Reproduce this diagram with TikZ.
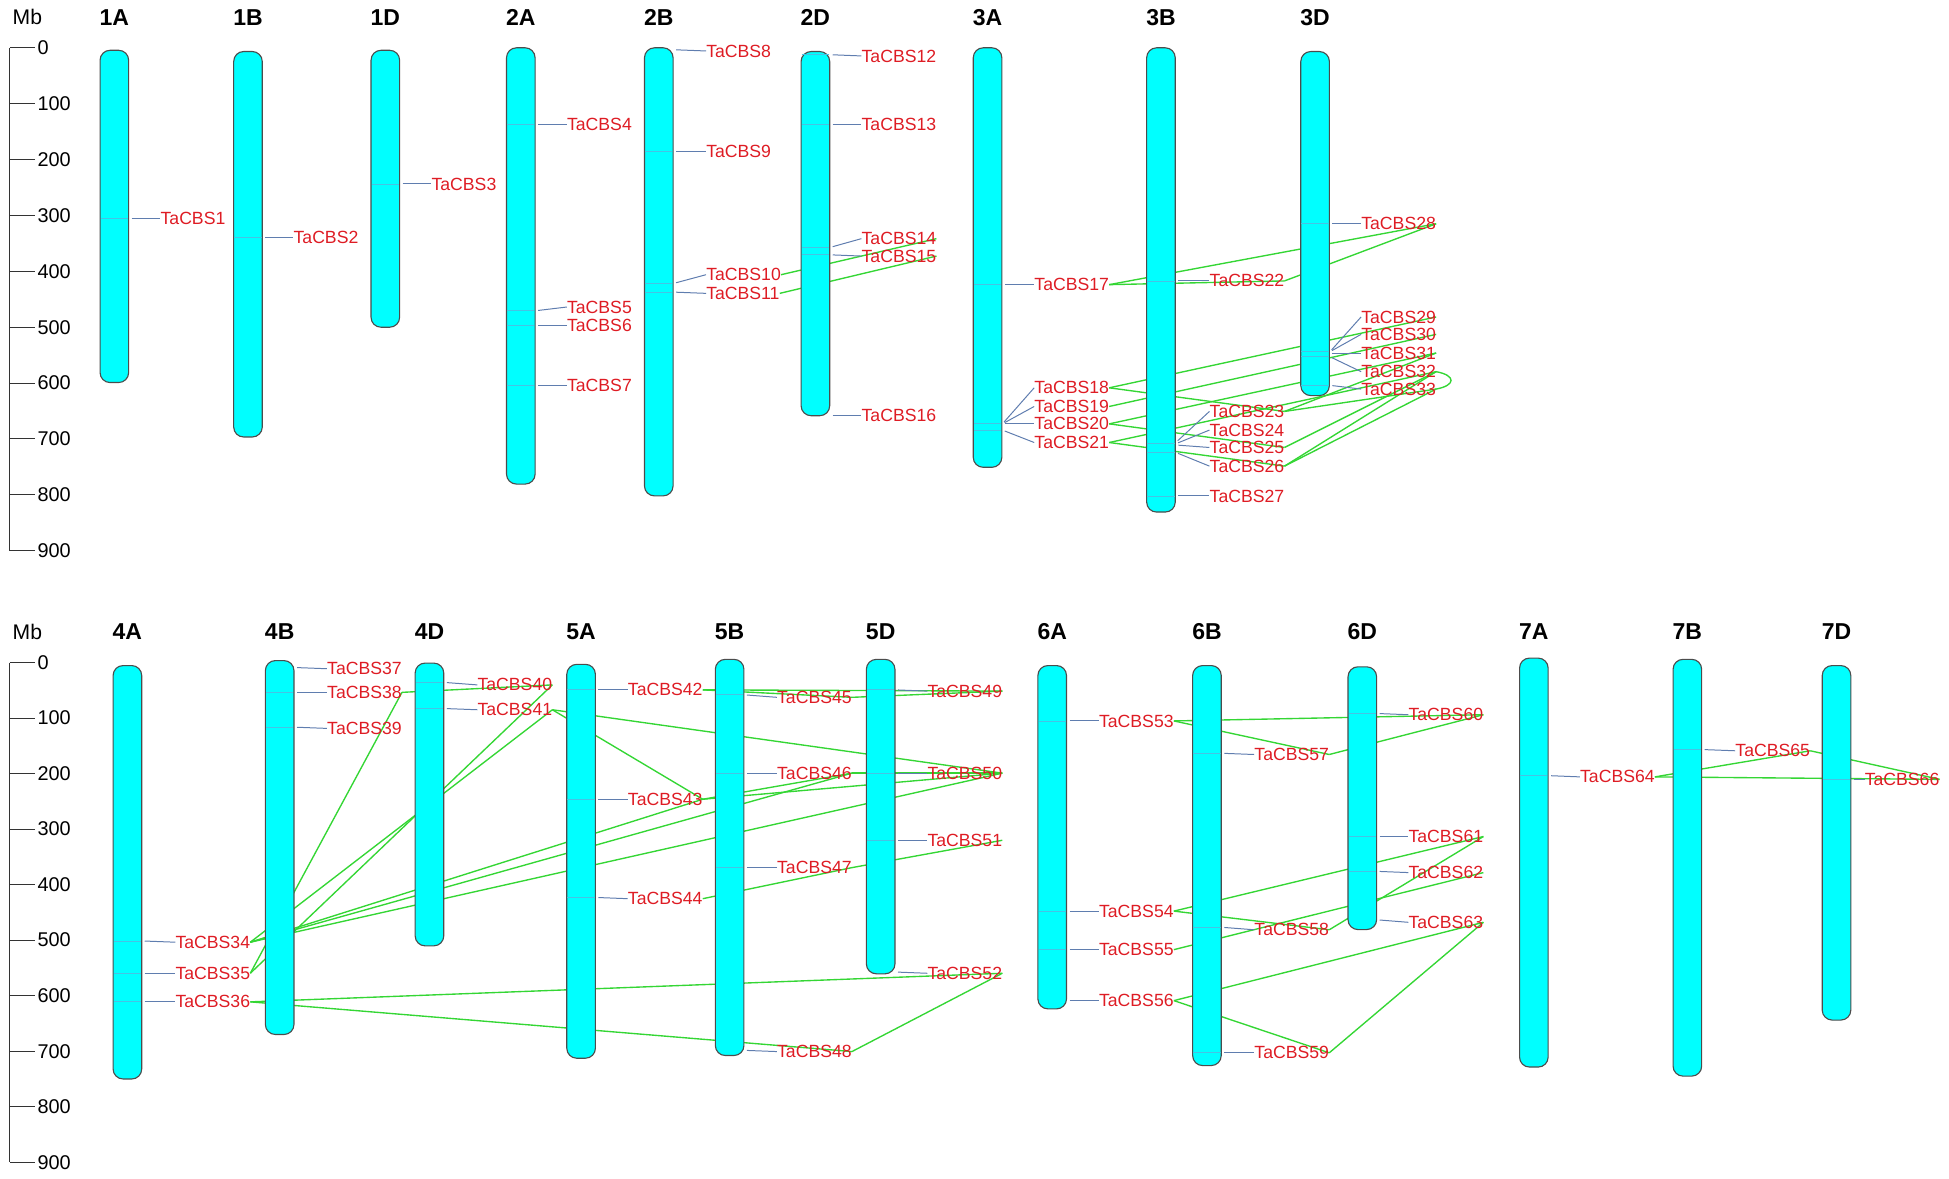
\documentclass[tikz,border=0pt]{standalone}
\usepackage{fontspec}
\setmainfont{Liberation Sans}
\usetikzlibrary{positioning}
\definecolor{chromcyan}{RGB}{0,255,255}
\definecolor{genered}{RGB}{222,28,36}
\definecolor{markblue}{RGB}{95,125,175}
\definecolor{bandblue}{RGB}{70,195,228}
\definecolor{linkgreen}{RGB}{52,214,52}
\pgfdeclarelayer{back}
\pgfsetlayers{back,main}

\begin{document}
\begin{tikzpicture}[x=1pt, y=-1pt,
    chrom/.style={draw=black!70, line width=0.9pt, fill=chromcyan, rounded corners=8pt,
        minimum width=23pt, inner sep=0pt, anchor=north},
    chrlabel/.style={inner sep=0pt, font=\fontsize{18.5}{18.5}\selectfont\bfseries},
    gene/.style={anchor=west, inner sep=0pt, text=genered, font=\fontsize{14.2}{14.2}\selectfont},
    marker/.style={draw=markblue, line width=0.8pt, shorten <=2pt},
    band/.style={draw=bandblue, line width=0.6pt, shorten <=1pt, shorten >=1pt},
    link/.style={draw=linkgreen, line width=1.1pt},
    axis/.style={draw=black!80, line width=0.8pt},
    mb/.style={anchor=west, inner sep=0pt, font=\fontsize{16}{16}\selectfont}]
    \useasboundingbox (0,0) rectangle (1568,948);

    % Scale bars
    \node[inner sep=0pt, font=\fontsize{17}{17}\selectfont] (mbtop) at (22,14) {Mb};
    \draw[axis] (8,38.5) -- (8,443);
    \foreach \m in {0,100,...,900} {
        \node[mb] (ta\m) at (30,{38.5+0.4494*\m}) {\m};
        \draw[axis, shorten >=2pt] (8,{38.5+0.4494*\m}) -- (ta\m.west);
    }
    \node[inner sep=0pt, font=\fontsize{17}{17}\selectfont] (mbbot) at (22,508) {Mb};
    \draw[axis] (8,533) -- (8,935);
    \foreach \m in {0,100,...,900} {
        \node[mb] (tb\m) at (30,{533+0.4467*\m}) {\m};
        \draw[axis, shorten >=2pt] (8,{533+0.4467*\m}) -- (tb\m.west);
    }

    % Chromosomes 1-3
    \node[chrom, minimum height=267.3pt] (c1A) at (92,40) {};
    \node[chrom, minimum height=310.1pt] (c1B) at (199.5,41) {};
    \node[chrom, minimum height=222.8pt] (c1D) at (310,40) {};
    \node[chrom, minimum height=351.0pt] (c2A) at (419,38) {};
    \node[chrom, minimum height=360.5pt] (c2B) at (530,38) {};
    \node[chrom, minimum height=293.0pt] (c2D) at (656,41) {};
    \node[chrom, minimum height=337.5pt] (c3A) at (794.5,38) {};
    \node[chrom, minimum height=373.5pt] (c3B) at (934,38) {};
    \node[chrom, minimum height=276.8pt] (c3D) at (1058,41) {};

    % Chromosomes 4-7
    \node[chrom, minimum height=332.6pt] (c4A) at (102.5,535) {};
    \node[chrom, minimum height=300.8pt] (c4B) at (225,531) {};
    \node[chrom, minimum height=227.5pt] (c4D) at (345.5,533) {};
    \node[chrom, minimum height=316.9pt] (c5A) at (467.5,534) {};
    \node[chrom, minimum height=318.7pt] (c5B) at (587,530) {};
    \node[chrom, minimum height=253.0pt] (c5D) at (708.5,530) {};
    \node[chrom, minimum height=276.2pt] (c6A) at (846.5,535) {};
    \node[chrom, minimum height=321.8pt] (c6B) at (971,535) {};
    \node[chrom, minimum height=211.4pt] (c6D) at (1096,536) {};
    \node[chrom, minimum height=329.0pt] (c7A) at (1234,529) {};
    \node[chrom, minimum height=335.3pt] (c7B) at (1357.5,530) {};
    \node[chrom, minimum height=285.2pt] (c7D) at (1477.5,535) {};

    % Chromosome names
    \foreach \c in {1A,1B,1D,2A,2B,2D,3A,3B,3D}
        \node[chrlabel] (l\c) at (c\c.north |- 0,14) {\c};
    \foreach \c in {4A,4B,4D,5A,5B,5D,6A,6B,6D,7A,7B,7D}
        \node[chrlabel] (l\c) at (c\c.north |- 0,508) {\c};

    % Gene bands
    \foreach \c/\y in {1A/176,1B/191,1D/148,2A/100,2A/250,2A/262,2A/310,2B/122,2B/228,2B/235,
        2D/44,2D/100,2D/199,2D/205,3A/229,3A/341,3A/346,3B/226,3B/357,3B/364,3B/399,
        3D/180,3D/283,3D/287,3D/310,4A/757,4A/783,4A/806,4B/557,4B/585,4D/549,4D/570,
        5A/555,5A/643,5A/722,5B/559,5B/622,5B/698,5D/555,5D/622,5D/676,6A/580,6A/733,
        6A/764,6B/606,6B/746,6B/847,6D/574,6D/673,6D/701,7A/624,7B/603,7D/627}
        \draw[band] (c\c.west |- 0,\y) -- (c\c.east |- 0,\y);

    % Genes on 1-3
    \node[gene] (g1) at (129,176) {TaCBS1}; \draw[marker] (c1A.east |- 0,176) -- (g1.west);
    \node[gene] (g2) at (236,191) {TaCBS2}; \draw[marker] (c1B.east |- 0,191) -- (g2.west);
    \node[gene] (g3) at (347,148) {TaCBS3}; \draw[marker] (c1D.east |- 0,148) -- (g3.west);
    \node[gene] (g4) at (456,100) {TaCBS4}; \draw[marker] (c2A.east |- 0,100) -- (g4.west);
    \node[gene] (g5) at (456,247) {TaCBS5}; \draw[marker] (c2A.east |- 0,250) -- (g5.west);
    \node[gene] (g6) at (456,262) {TaCBS6}; \draw[marker] (c2A.east |- 0,262) -- (g6.west);
    \node[gene] (g7) at (456,310) {TaCBS7}; \draw[marker] (c2A.east |- 0,310) -- (g7.west);
    \node[gene] (g8) at (568,41) {TaCBS8}; \draw[marker] (c2B.east |- 0,40) -- (g8.west);
    \node[gene] (g9) at (568,122) {TaCBS9}; \draw[marker] (c2B.east |- 0,122) -- (g9.west);
    \node[gene] (g10) at (568,221) {TaCBS10}; \draw[marker] (c2B.east |- 0,228) -- (g10.west);
    \node[gene] (g11) at (568,236) {TaCBS11}; \draw[marker] (c2B.east |- 0,235) -- (g11.west);
    \node[gene] (g12) at (693,45) {TaCBS12}; \draw[marker] (c2D.east |- 0,44) -- (g12.west);
    \node[gene] (g13) at (693,100) {TaCBS13}; \draw[marker] (c2D.east |- 0,100) -- (g13.west);
    \node[gene] (g14) at (693,192) {TaCBS14}; \draw[marker] (c2D.east |- 0,199) -- (g14.west);
    \node[gene] (g15) at (693,206) {TaCBS15}; \draw[marker] (c2D.east |- 0,205) -- (g15.west);
    \node[gene] (g16) at (693,334) {TaCBS16}; \draw[marker] (c2D.east |- 0,334) -- (g16.west);
    \node[gene] (g17) at (832,229) {TaCBS17}; \draw[marker] (c3A.east |- 0,229) -- (g17.west);
    \node[gene] (g18) at (832,312) {TaCBS18}; \draw[marker] (c3A.east |- 0,341) -- (g18.west);
    \node[gene] (g19) at (832,327) {TaCBS19}; \draw[marker] (c3A.east |- 0,341) -- (g19.west);
    \node[gene] (g20) at (832,341) {TaCBS20}; \draw[marker] (c3A.east |- 0,341) -- (g20.west);
    \node[gene] (g21) at (832,356) {TaCBS21}; \draw[marker] (c3A.east |- 0,346) -- (g21.west);
    \node[gene] (g22) at (973,226) {TaCBS22}; \draw[marker] (c3B.east |- 0,226) -- (g22.west);
    \node[gene] (g23) at (973,331) {TaCBS23}; \draw[marker] (c3B.east |- 0,356) -- (g23.west);
    \node[gene] (g24) at (973,346) {TaCBS24}; \draw[marker] (c3B.east |- 0,357) -- (g24.west);
    \node[gene] (g25) at (973,360) {TaCBS25}; \draw[marker] (c3B.east |- 0,358) -- (g25.west);
    \node[gene] (g26) at (973,375) {TaCBS26}; \draw[marker] (c3B.east |- 0,364) -- (g26.west);
    \node[gene] (g27) at (973,399) {TaCBS27}; \draw[marker] (c3B.east |- 0,399) -- (g27.west);
    \node[gene] (g28) at (1095,180) {TaCBS28}; \draw[marker] (c3D.east |- 0,180) -- (g28.west);
    \node[gene] (g29) at (1095,255) {TaCBS29}; \draw[marker] (c3D.east |- 0,283) -- (g29.west);
    \node[gene] (g30) at (1095,269) {TaCBS30}; \draw[marker] (c3D.east |- 0,283) -- (g30.west);
    \node[gene] (g31) at (1095,284) {TaCBS31}; \draw[marker] (c3D.east |- 0,284) -- (g31.west);
    \node[gene] (g32) at (1095,299) {TaCBS32}; \draw[marker] (c3D.east |- 0,287) -- (g32.west);
    \node[gene] (g33) at (1095,313) {TaCBS33}; \draw[marker] (c3D.east |- 0,310) -- (g33.west);

    % Genes on 4-7
    \node[gene] (g34) at (141,758) {TaCBS34}; \draw[marker] (c4A.east |- 0,757) -- (g34.west);
    \node[gene] (g35) at (141,783) {TaCBS35}; \draw[marker] (c4A.east |- 0,783) -- (g35.west);
    \node[gene] (g36) at (141,806) {TaCBS36}; \draw[marker] (c4A.east |- 0,806) -- (g36.west);
    \node[gene] (g37) at (263,538) {TaCBS37}; \draw[marker] (c4B.east |- 0,537) -- (g37.west);
    \node[gene] (g38) at (263,557) {TaCBS38}; \draw[marker] (c4B.east |- 0,557) -- (g38.west);
    \node[gene] (g39) at (263,586) {TaCBS39}; \draw[marker] (c4B.east |- 0,585) -- (g39.west);
    \node[gene] (g40) at (384,551) {TaCBS40}; \draw[marker] (c4D.east |- 0,549) -- (g40.west);
    \node[gene] (g41) at (384,571) {TaCBS41}; \draw[marker] (c4D.east |- 0,570) -- (g41.west);
    \node[gene] (g42) at (505,555) {TaCBS42}; \draw[marker] (c5A.east |- 0,555) -- (g42.west);
    \node[gene] (g43) at (505,643) {TaCBS43}; \draw[marker] (c5A.east |- 0,643) -- (g43.west);
    \node[gene] (g44) at (505,723) {TaCBS44}; \draw[marker] (c5A.east |- 0,722) -- (g44.west);
    \node[gene] (g45) at (625,561) {TaCBS45}; \draw[marker] (c5B.east |- 0,559) -- (g45.west);
    \node[gene] (g46) at (625,622) {TaCBS46}; \draw[marker] (c5B.east |- 0,622) -- (g46.west);
    \node[gene] (g47) at (625,698) {TaCBS47}; \draw[marker] (c5B.east |- 0,698) -- (g47.west);
    \node[gene] (g48) at (625,846) {TaCBS48}; \draw[marker] (c5B.east |- 0,845) -- (g48.west);
    \node[gene] (g49) at (746,556) {TaCBS49}; \draw[marker] (c5D.east |- 0,555) -- (g49.west);
    \node[gene] (g50) at (746,622) {TaCBS50}; \draw[marker] (c5D.east |- 0,622) -- (g50.west);
    \node[gene] (g51) at (746,676) {TaCBS51}; \draw[marker] (c5D.east |- 0,676) -- (g51.west);
    \node[gene] (g52) at (746,783) {TaCBS52}; \draw[marker] (c5D.east |- 0,782) -- (g52.west);
    \node[gene] (g53) at (884,580) {TaCBS53}; \draw[marker] (c6A.east |- 0,580) -- (g53.west);
    \node[gene] (g54) at (884,733) {TaCBS54}; \draw[marker] (c6A.east |- 0,733) -- (g54.west);
    \node[gene] (g55) at (884,764) {TaCBS55}; \draw[marker] (c6A.east |- 0,764) -- (g55.west);
    \node[gene] (g56) at (884,805) {TaCBS56}; \draw[marker] (c6A.east |- 0,805) -- (g56.west);
    \node[gene] (g57) at (1009,607) {TaCBS57}; \draw[marker] (c6B.east |- 0,606) -- (g57.west);
    \node[gene] (g58) at (1009,748) {TaCBS58}; \draw[marker] (c6B.east |- 0,746) -- (g58.west);
    \node[gene] (g59) at (1009,847) {TaCBS59}; \draw[marker] (c6B.east |- 0,847) -- (g59.west);
    \node[gene] (g60) at (1133,575) {TaCBS60}; \draw[marker] (c6D.east |- 0,574) -- (g60.west);
    \node[gene] (g61) at (1133,673) {TaCBS61}; \draw[marker] (c6D.east |- 0,673) -- (g61.west);
    \node[gene] (g62) at (1133,702) {TaCBS62}; \draw[marker] (c6D.east |- 0,701) -- (g62.west);
    \node[gene] (g63) at (1133,742) {TaCBS63}; \draw[marker] (c6D.east |- 0,740) -- (g63.west);
    \node[gene] (g64) at (1271,625) {TaCBS64}; \draw[marker] (c7A.east |- 0,624) -- (g64.west);
    \node[gene] (g65) at (1396,604) {TaCBS65}; \draw[marker] (c7B.east |- 0,603) -- (g65.west);
    \node[gene] (g66) at (1500,627) {TaCBS66}; \draw[marker] (c7D.east |- 0,627) -- (g66.west);

    % Duplicated pairs, behind the chromosomes
    \begin{pgfonlayer}{back}
        \draw[link] (g10.east) -- (g14.east);
        \draw[link] (g11.east) -- (g15.east);
        \draw[link] (g17.east) -- (g22.east);
        \draw[link] (g17.east) -- (g28.east);
        \draw[link] (g22.east) -- (g28.east);
        \draw[link] (g18.east) -- (g23.east);
        \draw[link] (g18.east) -- (g29.east);
        \draw[link] (g19.east) -- (g30.east);
        \draw[link] (g20.east) -- (g25.east);
        \draw[link] (g20.east) -- (g31.east);
        \draw[link] (g21.east) -- (g26.east);
        \draw[link] (g21.east) -- (g32.east);
        \draw[link] (g23.east) -- (g31.east);
        \draw[link] (g23.east) -- (g33.east);
        \draw[link] (g25.east) -- (g32.east);
        \draw[link] (g26.east) -- (g32.east);
        \draw[link] (g26.east) -- (g33.east);
        \draw[link] (g32.east) .. controls +(16,3) and +(16,-3) .. (g33.east);

        \draw[link] (g34.east) -- (g41.east);
        \draw[link] (g34.east) -- (g43.east);
        \draw[link] (g34.east) -- (g46.east);
        \draw[link] (g34.east) -- (g50.east);
        \draw[link] (g35.east) -- (g38.east);
        \draw[link] (g35.east) -- (g40.east);
        \draw[link] (g38.east) -- (g40.east);
        \draw[link] (g36.east) -- (g48.east);
        \draw[link] (g36.east) -- (g52.east);
        \draw[link] (g41.east) -- (g43.east);
        \draw[link] (g41.east) -- (g50.east);
        \draw[link] (g42.east) -- (g45.east);
        \draw[link] (g42.east) -- (g49.east);
        \draw[link] (g45.east) -- (g49.east);
        \draw[link] (g43.east) -- (g46.east);
        \draw[link] (g43.east) -- (g50.east);
        \draw[link] (g46.east) -- (g50.east);
        \draw[link] (g44.east) -- (g47.east);
        \draw[link] (g47.east) -- (g51.east);
        \draw[link] (g48.east) -- (g52.east);

        \draw[link] (g53.east) -- (g57.east);
        \draw[link] (g53.east) -- (g60.east);
        \draw[link] (g57.east) -- (g60.east);
        \draw[link] (g54.east) -- (g58.east);
        \draw[link] (g54.east) -- (g61.east);
        \draw[link] (g55.east) -- (g62.east);
        \draw[link] (g58.east) -- (g61.east);
        \draw[link] (g56.east) -- (g59.east);
        \draw[link] (g56.east) -- (g63.east);
        \draw[link] (g59.east) -- (g63.east);

        \draw[link] (g64.east) -- (g65.east);
        \draw[link] (g64.east) -- (g66.east);
        \draw[link] (g65.east) -- (g66.east);
    \end{pgfonlayer}
\end{tikzpicture}
\end{document}
